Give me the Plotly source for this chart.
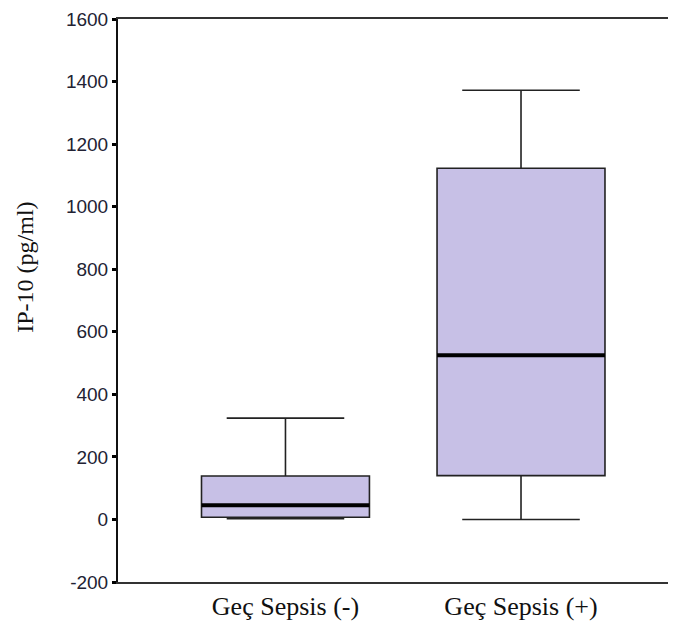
import plotly.graph_objects as go

categories = ["Geç Sepsis (-)", "Geç Sepsis (+)"]
lower_whisker = [2, 0]
q1_values = [7, 140]
median_values = [45, 525]
q3_values = [139, 1123]
upper_whisker = [324, 1372]
y_ticks = [-200, 0, 200, 400, 600, 800, 1000, 1200, 1400, 1600]
y_tick_labels = [str(v) for v in y_ticks]

positions = list(range(len(categories)))
box_w = 0.713

fig = go.Figure()
fig.add_trace(go.Box(
    x=positions,
    q1=q1_values, median=median_values, q3=q3_values,
    lowerfence=lower_whisker, upperfence=upper_whisker,
    width=box_w, whiskerwidth=0.70,
    fillcolor="#c7c0e6",
    line=dict(color="#222222", width=1.6),
    boxpoints=False, showlegend=False, hoverinfo="skip",
))
for p, m in zip(positions, median_values):
    fig.add_trace(go.Scatter(
        x=[p - box_w / 2, p + box_w / 2], y=[m, m], mode="lines",
        line=dict(color="#000000", width=4), showlegend=False, hoverinfo="skip",
    ))

fig.update_layout(
    width=668, height=618,
    margin=dict(l=110, r=0, t=11, b=44, autoexpand=False),
    plot_bgcolor="white", paper_bgcolor="white",
    xaxis=dict(
        range=[-0.711, 1.658], tickvals=positions, ticktext=categories,
        showline=True, mirror=True, linecolor="#333333", linewidth=2,
        showgrid=False, zeroline=False, ticks="", automargin=False,
        tickfont=dict(family="Liberation Serif, Times New Roman, serif", size=26, color="#111111"),
    ),
    yaxis=dict(
        range=[-200, 1600], tickvals=y_ticks, ticktext=y_tick_labels,
        showline=True, linecolor="#111111", linewidth=2,
        showgrid=False, zeroline=False, automargin=False,
        ticks="outside", ticklen=4, tickwidth=3, tickcolor="#000000",
        tickfont=dict(family="Liberation Sans, Arial, sans-serif", size=19, color="#222233"),
    ),
    annotations=[dict(
        text="IP-10 (pg/ml)", textangle=-90, showarrow=False,
        xref="paper", yref="paper", x=-0.1667, y=0.5599,
        xanchor="center", yanchor="middle",
        font=dict(family="Liberation Serif, Times New Roman, serif", size=24, color="#111111"),
    )],
)

fig.write_html("out.html")
